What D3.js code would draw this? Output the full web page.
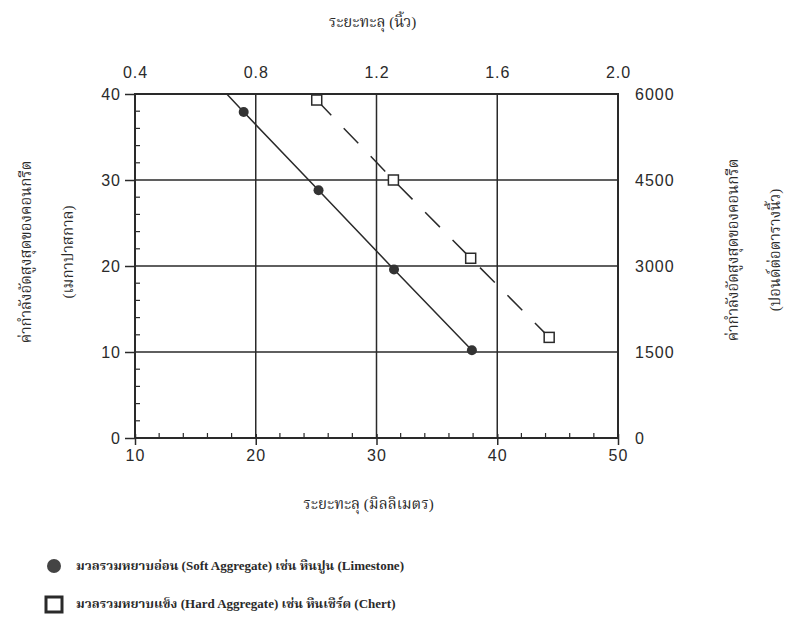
<!DOCTYPE html>
<html>
<head>
<meta charset="utf-8">
<script src="https://cdn.jsdelivr.net/npm/d3@7"></script>
<style>
  body { margin: 0; background: #fff; }
  svg { display: block; }
  .tick text { font-family: "Liberation Sans", Arial, sans-serif; font-size: 16px; letter-spacing: 1px; fill: #2a2a2a; }
  .thai { font-family: "Liberation Serif", "Noto Serif Thai", "Noto Sans Thai", serif; fill: #2a2a2a; }
</style>
</head>
<body>
<div id="chart"></div>
<script>
// penetration (mm) vs compressive strength (MPa)
var softX = [19.0, 25.2, 31.45, 37.9];
var softY = [37.9, 28.8, 19.6, 10.2];
var hardX = [25.05, 31.4, 37.8, 44.3];
var hardY = [39.3, 30.0, 20.9, 11.7];

// start of the fitted solid line at the top border
var softLineStart = [17.6, 40];

var bottomTicks = [10, 20, 30, 40, 50];
var leftTicks = [0, 10, 20, 30, 40];
var topTicks = [0.4, 0.8, 1.2, 1.6, 2.0];
var rightTicks = [0, 1500, 3000, 4500, 6000];

var legendLabels = [
  "มวลรวมหยาบอ่อน (Soft Aggregate) เช่น หินปูน (Limestone)",
  "มวลรวมหยาบแข็ง (Hard Aggregate) เช่น หินเชิร์ต (Chert)"
];

var W = 792, H = 619;
var margin = {top: 94, right: 174, bottom: 181, left: 135},
    width = W - margin.left - margin.right,
    height = H - margin.top - margin.bottom;

var ink = "#2a2a2a";

var x = d3.scaleLinear().domain([10, 50]).range([0, width]);
var y = d3.scaleLinear().domain([0, 40]).range([height, 0]);
var xTop = d3.scaleLinear().domain([0.4, 2.0]).range([0, width]);
var yRight = d3.scaleLinear().domain([0, 6000]).range([height, 0]);

var svg = d3.select("#chart").append("svg")
    .attr("width", W)
    .attr("height", H);

var plot = svg.append("g")
    .attr("transform", "translate(" + margin.left + "," + margin.top + ")");

// grid lines
plot.selectAll(".vgrid").data([20, 30, 40]).enter().append("line")
    .attr("x1", d => x(d)).attr("x2", d => x(d))
    .attr("y1", 0).attr("y2", height)
    .attr("stroke", ink).attr("stroke-width", 1.5);
plot.selectAll(".hgrid").data([10, 20, 30]).enter().append("line")
    .attr("x1", 0).attr("x2", width)
    .attr("y1", d => y(d)).attr("y2", d => y(d))
    .attr("stroke", ink).attr("stroke-width", 1.5);

// minor ticks (inside)
var minorX = d3.range(10, 50, 2).filter(d => d % 10 != 0);
var minorY = d3.range(0, 40, 2).filter(d => d % 10 != 0);
plot.selectAll(".mx").data(minorX).enter().append("line")
    .attr("x1", d => x(d)).attr("x2", d => x(d))
    .attr("y1", height).attr("y2", height - 5)
    .attr("stroke", ink).attr("stroke-width", 1.2);
plot.selectAll(".my").data(minorY).enter().append("line")
    .attr("x1", 0).attr("x2", 5)
    .attr("y1", d => y(d)).attr("y2", d => y(d))
    .attr("stroke", ink).attr("stroke-width", 1.2);

// axes
var gBottom = plot.append("g")
    .attr("transform", "translate(0," + height + ")")
    .call(d3.axisBottom(x).tickValues(bottomTicks).tickSize(7).tickPadding(5));
var gLeft = plot.append("g")
    .call(d3.axisLeft(y).tickValues(leftTicks).tickSize(10).tickPadding(4));
var gTop = plot.append("g")
    .call(d3.axisTop(xTop).tickValues(topTicks).tickFormat(d3.format(".1f")).tickSize(0).tickPadding(16));
var gRight = plot.append("g")
    .attr("transform", "translate(" + width + ",0)")
    .call(d3.axisRight(yRight).tickValues(rightTicks).tickFormat(d3.format("d")).tickSize(0).tickPadding(17));

[gBottom, gLeft, gTop, gRight].forEach(function(g) {
  g.select(".domain").remove();
  g.selectAll(".tick line").attr("stroke", ink).attr("stroke-width", 1.5);
});
gBottom.selectAll(".tick line").attr("y1", -4);

// frame
plot.append("rect")
    .attr("x", 0).attr("y", 0)
    .attr("width", width).attr("height", height)
    .attr("fill", "none")
    .attr("stroke", ink).attr("stroke-width", 2);

// series lines
var line = d3.line()
    .x(d => x(d[0]))
    .y(d => y(d[1]));

var softPts = softX.map((v, i) => [v, softY[i]]);
var hardPts = hardX.map((v, i) => [v, hardY[i]]);

plot.append("path")
    .datum([softLineStart].concat(softPts))
    .attr("d", line)
    .attr("fill", "none")
    .attr("stroke", ink).attr("stroke-width", 1.5);

plot.append("path")
    .datum(hardPts)
    .attr("d", line)
    .attr("fill", "none")
    .attr("stroke", ink).attr("stroke-width", 1.5)
    .attr("stroke-dasharray", "21,18");

// markers
plot.selectAll(".soft").data(softPts).enter().append("circle")
    .attr("cx", d => x(d[0])).attr("cy", d => y(d[1]))
    .attr("r", 5)
    .attr("fill", "#333");

plot.selectAll(".hard").data(hardPts).enter().append("rect")
    .attr("x", d => x(d[0]) - 5).attr("y", d => y(d[1]) - 5)
    .attr("width", 10).attr("height", 10)
    .attr("fill", "#fff")
    .attr("stroke", ink).attr("stroke-width", 1.5);

// axis titles
svg.append("text").attr("class", "thai")
    .attr("x", margin.left + width / 2 - 4).attr("y", 27)
    .attr("text-anchor", "middle").attr("font-size", 15)
    .text("ระยะทะลุ (นิ้ว)");

svg.append("text").attr("class", "thai")
    .attr("x", margin.left + width / 2 - 8).attr("y", 509)
    .attr("text-anchor", "middle").attr("font-size", 15)
    .text("ระยะทะลุ (มิลลิเมตร)");

var leftTitle = svg.append("text").attr("class", "thai")
    .attr("transform", "translate(31,252) rotate(-90)")
    .attr("text-anchor", "middle").attr("font-size", 15);
leftTitle.append("tspan").attr("x", 0).attr("dy", 0).text("ค่ากำลังอัดสูงสุดของคอนกรีต");
leftTitle.append("tspan").attr("x", 0).attr("dy", 42).text("(เมกาปาสกาล)");

var rightTitle = svg.append("text").attr("class", "thai")
    .attr("transform", "translate(738,250) rotate(-90)")
    .attr("text-anchor", "middle").attr("font-size", 15);
rightTitle.append("tspan").attr("x", 0).attr("dy", 0).text("ค่ากำลังอัดสูงสุดของคอนกรีต");
rightTitle.append("tspan").attr("x", 0).attr("dy", 42).text("(ปอนด์ต่อตารางนิ้ว)");

// legend
var legend = svg.append("g");
legend.append("circle")
    .attr("cx", 54).attr("cy", 566).attr("r", 7)
    .attr("fill", "#444");
legend.append("rect")
    .attr("x", 46).attr("y", 597).attr("width", 16).attr("height", 15)
    .attr("fill", "#fff").attr("stroke", ink).attr("stroke-width", 3);
legend.selectAll(".lab").data(legendLabels).enter().append("text")
    .attr("class", "thai")
    .attr("x", 76).attr("y", (d, i) => 570 + i * 38)
    .attr("font-size", 13).attr("font-weight", "bold")
    .text(d => d);
</script>
</body>
</html>
